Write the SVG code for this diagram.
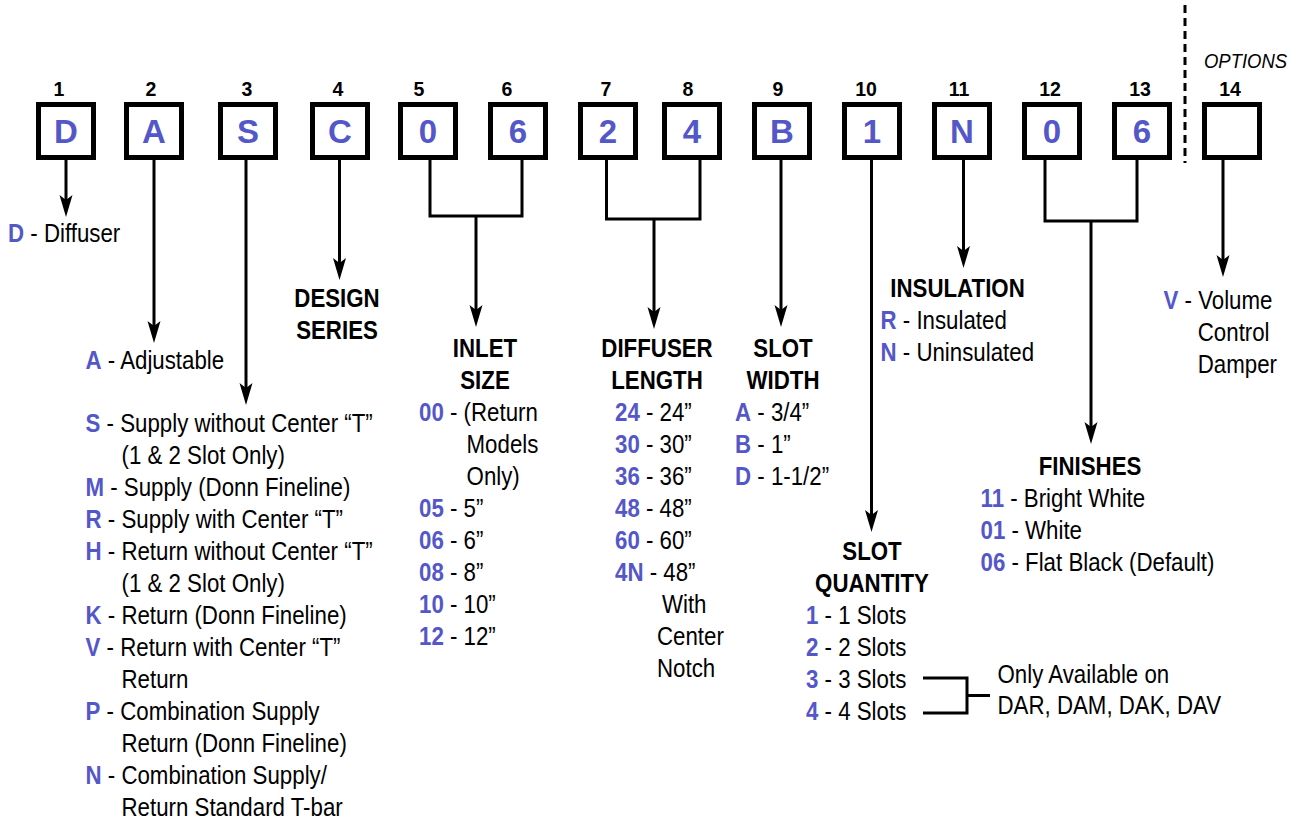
<svg xmlns="http://www.w3.org/2000/svg" width="1302" height="821" viewBox="0 0 1302 821">
<defs>
<style>
text{font-family:"Liberation Sans",Arial,Helvetica,sans-serif;fill:#000}
.num{font-size:19.5px;font-weight:bold;text-anchor:middle}
.let{font-size:33px;font-weight:bold;fill:#5457C7;text-anchor:middle}
.box{fill:#fff;stroke:#000;stroke-width:5}
.t{font-size:26px}
.h{font-size:26px;font-weight:bold;text-anchor:middle}
.c{font-weight:bold;fill:#5457C7}
.ln{fill:none;stroke:#000;stroke-width:3}
.arr{marker-end:url(#ah)}
.opt{font-size:21px;font-style:italic}
.dash{fill:none;stroke:#000;stroke-width:3;stroke-dasharray:8 5}
</style>
<marker id="ah" markerUnits="userSpaceOnUse" viewBox="0 -7 22 14" markerWidth="22" markerHeight="14" refX="12" refY="0" orient="auto"><path d="M0,-6.5 L22,0 L0,6.5 L5,0 Z" fill="#000"/></marker>
</defs>
<rect width="1302" height="821" fill="#fff"/>

<g id="connectors">
<path class="ln arr" d="M66 160 V207"/>
<path class="ln arr" d="M154 160 V333"/>
<path class="ln arr" d="M246 160 V395"/>
<path class="ln arr" d="M339.5 160 V270"/>
<path class="ln" d="M430 160 V216 H522 V160"/>
<path class="ln arr" d="M476 216 V317"/>
<path class="ln" d="M606.5 160 V219 H700 V160"/>
<path class="ln arr" d="M654 219 V319"/>
<path class="ln arr" d="M781 160 V317"/>
<path class="ln arr" d="M871.5 160 V522"/>
<path class="ln arr" d="M963.5 160 V258"/>
<path class="ln" d="M1045 160 V221 H1137 V160"/>
<path class="ln arr" d="M1091 221 V434"/>
<path class="ln arr" d="M1223 160 V267"/>
<path class="ln" d="M923 678 H967 V713 H923 M967 695.5 H990"/>
<path class="dash" d="M1185 5 V163"/>
</g>

<g id="box1"><rect class="box" x="38.5" y="104.5" width="55" height="53"/><text class="num" x="59" y="96">1</text><text class="let" x="66" y="143">D</text></g>
<g id="box2"><rect class="box" x="126.5" y="104.5" width="55" height="53"/><text class="num" x="151" y="96">2</text><text class="let" x="154" y="143">A</text></g>
<g id="box3"><rect class="box" x="220.5" y="104.5" width="55" height="53"/><text class="num" x="247" y="96">3</text><text class="let" x="248" y="143">S</text></g>
<g id="box4"><rect class="box" x="312.5" y="104.5" width="55" height="53"/><text class="num" x="338" y="96">4</text><text class="let" x="340" y="143">C</text></g>
<g id="box5"><rect class="box" x="400.5" y="104.5" width="55" height="53"/><text class="num" x="419" y="96">5</text><text class="let" x="428" y="143">0</text></g>
<g id="box6"><rect class="box" x="490.5" y="104.5" width="55" height="53"/><text class="num" x="507" y="96">6</text><text class="let" x="518" y="143">6</text></g>
<g id="box7"><rect class="box" x="580.5" y="104.5" width="55" height="53"/><text class="num" x="606" y="96">7</text><text class="let" x="608" y="143">2</text></g>
<g id="box8"><rect class="box" x="664.5" y="104.5" width="55" height="53"/><text class="num" x="688" y="96">8</text><text class="let" x="692" y="143">4</text></g>
<g id="box9"><rect class="box" x="754.5" y="104.5" width="55" height="53"/><text class="num" x="778" y="96">9</text><text class="let" x="782" y="143">B</text></g>
<g id="box10"><rect class="box" x="844.5" y="104.5" width="55" height="53"/><text class="num" x="866" y="96">10</text><text class="let" x="872" y="143">1</text></g>
<g id="box11"><rect class="box" x="934.5" y="104.5" width="55" height="53"/><text class="num" x="959" y="96">11</text><text class="let" x="962" y="143">N</text></g>
<g id="box12"><rect class="box" x="1024.5" y="104.5" width="55" height="53"/><text class="num" x="1050" y="96">12</text><text class="let" x="1052" y="143">0</text></g>
<g id="box13"><rect class="box" x="1114.5" y="104.5" width="55" height="53"/><text class="num" x="1140" y="96">13</text><text class="let" x="1142" y="143">6</text></g>
<g id="box14"><rect class="box" x="1204.5" y="104.5" width="55" height="53"/><text class="num" x="1230" y="96">14</text></g>

<g id="options-label" transform="translate(1204 0) scale(0.88 1)"><text class="opt" x="0" y="68">OPTIONS</text></g>

<g id="type" transform="translate(8 0) scale(0.857 1)">
<text class="t" x="0" y="242"><tspan class="c">D</tspan> - Diffuser</text>
</g>

<g id="model" transform="translate(85.5 0) scale(0.857 1)">
<text class="t" x="0" y="369"><tspan class="c">A</tspan> - Adjustable</text>
<text class="t" x="0" y="432"><tspan class="c">S</tspan> - Supply without Center “T”</text>
<text class="t" x="42" y="464">(1 &amp; 2 Slot Only)</text>
<text class="t" x="0" y="496"><tspan class="c">M</tspan> - Supply (Donn Fineline)</text>
<text class="t" x="0" y="528"><tspan class="c">R</tspan> - Supply with Center “T”</text>
<text class="t" x="0" y="560"><tspan class="c">H</tspan> - Return without Center “T”</text>
<text class="t" x="42" y="592">(1 &amp; 2 Slot Only)</text>
<text class="t" x="0" y="624"><tspan class="c">K</tspan> - Return (Donn Fineline)</text>
<text class="t" x="0" y="656"><tspan class="c">V</tspan> - Return with Center “T”</text>
<text class="t" x="42" y="688">Return</text>
<text class="t" x="0" y="720"><tspan class="c">P</tspan> - Combination Supply</text>
<text class="t" x="42" y="752">Return (Donn Fineline)</text>
<text class="t" x="0" y="784"><tspan class="c">N</tspan> - Combination Supply/</text>
<text class="t" x="42" y="816">Return Standard T-bar</text>
</g>

<g id="design-series" transform="translate(337 0) scale(0.857 1)">
<text class="h" x="0" y="307">DESIGN</text>
<text class="h" x="0" y="339">SERIES</text>
</g>

<g id="inlet-size">
<g transform="translate(485 0) scale(0.857 1)">
<text class="h" x="0" y="357">INLET</text>
<text class="h" x="0" y="389">SIZE</text>
</g>
<g transform="translate(419 0) scale(0.857 1)">
<text class="t" x="0" y="421"><tspan class="c">00</tspan> - (Return</text>
<text class="t" x="55.5" y="453">Models</text>
<text class="t" x="55.5" y="485">Only)</text>
<text class="t" x="0" y="517"><tspan class="c">05</tspan> - 5”</text>
<text class="t" x="0" y="549"><tspan class="c">06</tspan> - 6”</text>
<text class="t" x="0" y="581"><tspan class="c">08</tspan> - 8”</text>
<text class="t" x="0" y="613"><tspan class="c">10</tspan> - 10”</text>
<text class="t" x="0" y="645"><tspan class="c">12</tspan> - 12”</text>
</g>
</g>

<g id="diffuser-length">
<g transform="translate(657 0) scale(0.857 1)">
<text class="h" x="0" y="357">DIFFUSER</text>
<text class="h" x="0" y="389">LENGTH</text>
</g>
<g transform="translate(615 0) scale(0.857 1)">
<text class="t" x="0" y="421"><tspan class="c">24</tspan> - 24”</text>
<text class="t" x="0" y="453"><tspan class="c">30</tspan> - 30”</text>
<text class="t" x="0" y="485"><tspan class="c">36</tspan> - 36”</text>
<text class="t" x="0" y="517"><tspan class="c">48</tspan> - 48”</text>
<text class="t" x="0" y="549"><tspan class="c">60</tspan> - 60”</text>
<text class="t" x="0" y="581"><tspan class="c">4N</tspan> - 48”</text>
<text class="t" x="54.8" y="613">With</text>
<text class="t" x="49" y="645">Center</text>
<text class="t" x="49" y="677">Notch</text>
</g>
</g>

<g id="slot-width">
<g transform="translate(783 0) scale(0.857 1)">
<text class="h" x="0" y="357">SLOT</text>
<text class="h" x="0" y="389">WIDTH</text>
</g>
<g transform="translate(735 0) scale(0.857 1)">
<text class="t" x="0" y="421"><tspan class="c">A</tspan> - 3/4”</text>
<text class="t" x="0" y="453"><tspan class="c">B</tspan> - 1”</text>
<text class="t" x="0" y="485"><tspan class="c">D</tspan> - 1-1/2”</text>
</g>
</g>

<g id="slot-quantity">
<g transform="translate(872 0) scale(0.857 1)">
<text class="h" x="0" y="560">SLOT</text>
<text class="h" x="0" y="592">QUANTITY</text>
</g>
<g transform="translate(806 0) scale(0.857 1)">
<text class="t" x="0" y="624"><tspan class="c">1</tspan> - 1 Slots</text>
<text class="t" x="0" y="656"><tspan class="c">2</tspan> - 2 Slots</text>
<text class="t" x="0" y="688"><tspan class="c">3</tspan> - 3 Slots</text>
<text class="t" x="0" y="720"><tspan class="c">4</tspan> - 4 Slots</text>
</g>
</g>

<g id="availability-note" transform="translate(997.5 0) scale(0.857 1)">
<text class="t" x="0" y="683">Only Available on</text>
<text class="t" x="0" y="714">DAR, DAM, DAK, DAV</text>
</g>

<g id="insulation">
<g transform="translate(957.5 0) scale(0.857 1)">
<text class="h" x="0" y="297">INSULATION</text>
</g>
<g transform="translate(880.5 0) scale(0.857 1)">
<text class="t" x="0" y="329"><tspan class="c">R</tspan> - Insulated</text>
<text class="t" x="0" y="361"><tspan class="c">N</tspan> - Uninsulated</text>
</g>
</g>

<g id="finishes">
<g transform="translate(1090 0) scale(0.857 1)">
<text class="h" x="0" y="475">FINISHES</text>
</g>
<g transform="translate(980.5 0) scale(0.857 1)">
<text class="t" x="0" y="507"><tspan class="c">11</tspan> - Bright White</text>
<text class="t" x="0" y="539"><tspan class="c">01</tspan> - White</text>
<text class="t" x="0" y="571"><tspan class="c">06</tspan> - Flat Black (Default)</text>
</g>
</g>

<g id="options" transform="translate(1163.5 0) scale(0.857 1)">
<text class="t" x="0" y="309"><tspan class="c">V</tspan> - Volume</text>
<text class="t" x="40" y="341">Control</text>
<text class="t" x="40" y="373">Damper</text>
</g>
</svg>
